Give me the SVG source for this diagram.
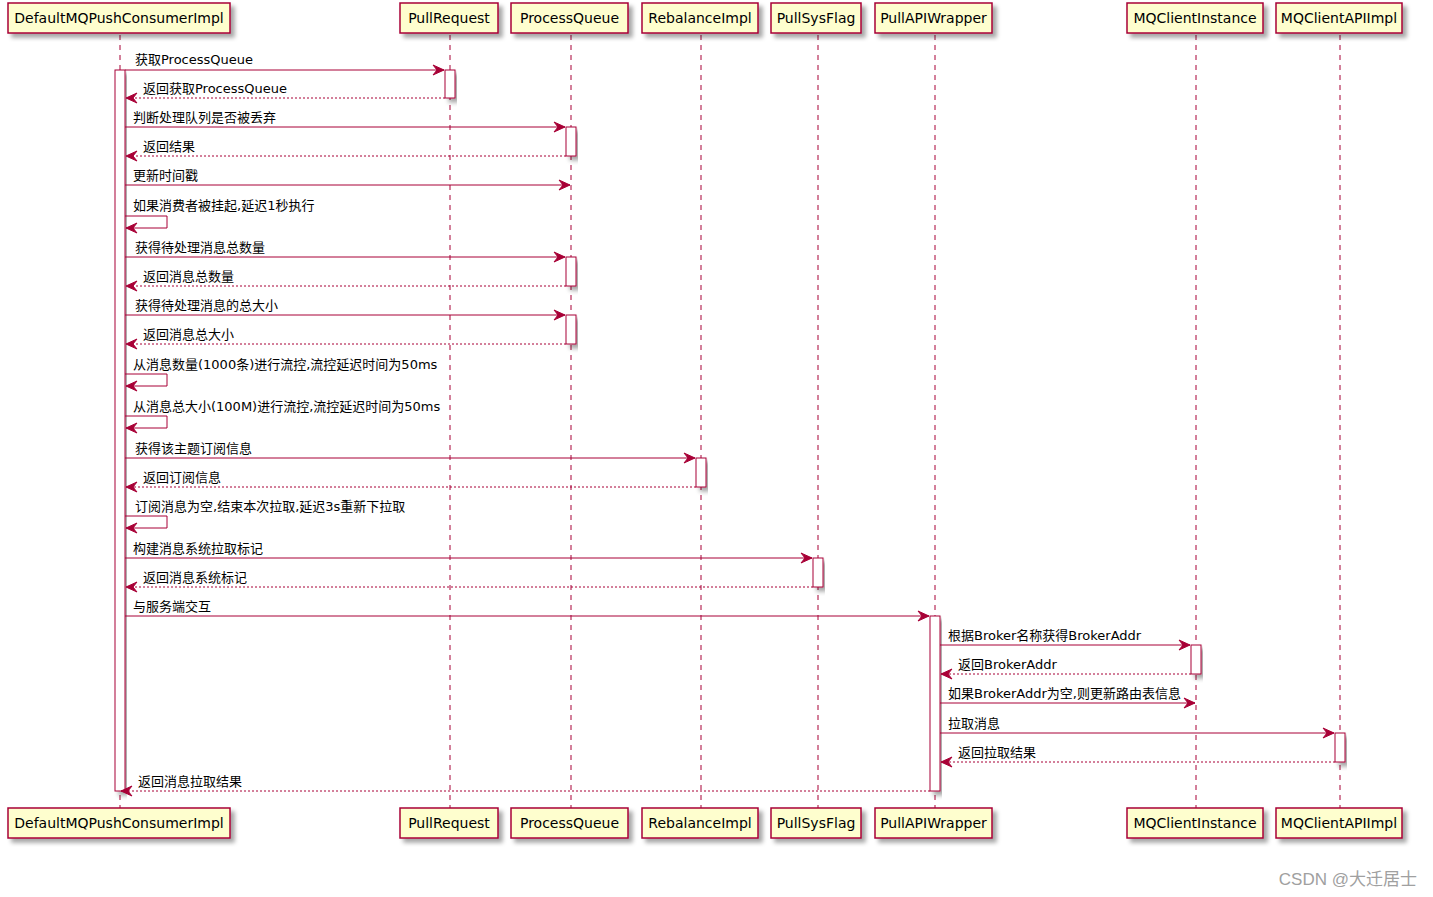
<svg xmlns="http://www.w3.org/2000/svg" width="1433" height="897" viewBox="0 0 1433 897">
<defs>
<filter id="sh" x="-10%" y="-10%" width="130%" height="140%">
<feDropShadow dx="4" dy="4" stdDeviation="2" flood-color="#000" flood-opacity="0.35"/>
</filter>
<marker id="ah" markerUnits="userSpaceOnUse" markerWidth="14" markerHeight="12" refX="12" refY="6" orient="auto" viewBox="0 0 14 12">
<path d="M1,1 L12,6 L1,11 L5,6 Z" fill="#A80036" stroke="#A80036" stroke-width="1"/>
</marker>
<style>
.box{fill:#FEFECE;stroke:#A80036;stroke-width:1.5;filter:url(#sh)}
.pt{font-family:"DejaVu Sans","Noto Sans CJK SC",sans-serif;font-size:14px;fill:#000;text-anchor:middle}
.life{stroke:#A80036;stroke-width:1;stroke-dasharray:5,5;fill:none}
.act{fill:#FFFFFF;stroke:#A80036;stroke-width:1;filter:url(#sh)}
.msg{stroke:#A80036;stroke-width:1;fill:none;marker-end:url(#ah)}
.ret{stroke:#A80036;stroke-width:1;fill:none;stroke-dasharray:2,2;marker-end:url(#ah)}
.ml{font-family:"DejaVu Sans","Noto Sans CJK SC",sans-serif;font-size:13px;fill:#000}
.wm{font-family:"Liberation Sans","Noto Sans CJK SC",sans-serif;font-size:17px;fill:#A0A0A0;text-anchor:end}
</style>
</defs>
<rect width="1433" height="897" fill="#FFFFFF"/>

<g id="p-DefaultMQPushConsumerImpl">
<line class="life" x1="120" y1="35" x2="120" y2="808"/>
<rect class="box" x="8" y="3" width="222" height="30"/>
<text class="pt" x="119" y="23">DefaultMQPushConsumerImpl</text>
<rect class="box" x="8" y="808" width="222" height="30"/>
<text class="pt" x="119" y="828">DefaultMQPushConsumerImpl</text>
</g>
<g id="p-PullRequest">
<line class="life" x1="450" y1="35" x2="450" y2="808"/>
<rect class="box" x="400" y="3" width="98" height="30"/>
<text class="pt" x="449" y="23">PullRequest</text>
<rect class="box" x="400" y="808" width="98" height="30"/>
<text class="pt" x="449" y="828">PullRequest</text>
</g>
<g id="p-ProcessQueue">
<line class="life" x1="571" y1="35" x2="571" y2="808"/>
<rect class="box" x="511" y="3" width="117" height="30"/>
<text class="pt" x="569.5" y="23">ProcessQueue</text>
<rect class="box" x="511" y="808" width="117" height="30"/>
<text class="pt" x="569.5" y="828">ProcessQueue</text>
</g>
<g id="p-RebalanceImpl">
<line class="life" x1="701" y1="35" x2="701" y2="808"/>
<rect class="box" x="642" y="3" width="116" height="30"/>
<text class="pt" x="700" y="23">RebalanceImpl</text>
<rect class="box" x="642" y="808" width="116" height="30"/>
<text class="pt" x="700" y="828">RebalanceImpl</text>
</g>
<g id="p-PullSysFlag">
<line class="life" x1="818" y1="35" x2="818" y2="808"/>
<rect class="box" x="771" y="3" width="90" height="30"/>
<text class="pt" x="816" y="23">PullSysFlag</text>
<rect class="box" x="771" y="808" width="90" height="30"/>
<text class="pt" x="816" y="828">PullSysFlag</text>
</g>
<g id="p-PullAPIWrapper">
<line class="life" x1="935" y1="35" x2="935" y2="808"/>
<rect class="box" x="875" y="3" width="117" height="30"/>
<text class="pt" x="933.5" y="23">PullAPIWrapper</text>
<rect class="box" x="875" y="808" width="117" height="30"/>
<text class="pt" x="933.5" y="828">PullAPIWrapper</text>
</g>
<g id="p-MQClientInstance">
<line class="life" x1="1196" y1="35" x2="1196" y2="808"/>
<rect class="box" x="1127" y="3" width="136" height="30"/>
<text class="pt" x="1195" y="23">MQClientInstance</text>
<rect class="box" x="1127" y="808" width="136" height="30"/>
<text class="pt" x="1195" y="828">MQClientInstance</text>
</g>
<g id="p-MQClientAPIImpl">
<line class="life" x1="1340" y1="35" x2="1340" y2="808"/>
<rect class="box" x="1276" y="3" width="126" height="30"/>
<text class="pt" x="1339" y="23">MQClientAPIImpl</text>
<rect class="box" x="1276" y="808" width="126" height="30"/>
<text class="pt" x="1339" y="828">MQClientAPIImpl</text>
</g>

<g id="activations">
<rect class="act" x="115" y="70" width="10" height="721"/>
<rect class="act" x="445" y="70" width="10" height="28"/>
<rect class="act" x="566" y="127" width="10" height="29"/>
<rect class="act" x="566" y="257" width="10" height="29"/>
<rect class="act" x="566" y="315" width="10" height="29"/>
<rect class="act" x="696" y="458" width="10" height="29"/>
<rect class="act" x="813" y="558" width="10" height="29"/>
<rect class="act" x="930" y="616" width="10" height="175"/>
<rect class="act" x="1191" y="645" width="10" height="29"/>
<rect class="act" x="1335" y="733" width="10" height="29"/>
</g>

<g id="connectors">
<line class="msg" x1="125" y1="70" x2="444" y2="70"/>
<text class="ml" x="135" y="64">获取ProcessQueue</text>
<line class="ret" x1="445" y1="98" x2="126" y2="98"/>
<text class="ml" x="143" y="93">返回获取ProcessQueue</text>

<line class="msg" x1="125" y1="127" x2="565" y2="127"/>
<text class="ml" x="133" y="122">判断处理队列是否被丢弃</text>
<line class="ret" x1="566" y1="156" x2="126" y2="156"/>
<text class="ml" x="143" y="151">返回结果</text>

<line class="msg" x1="125" y1="185" x2="570" y2="185"/>
<text class="ml" x="133" y="180">更新时间戳</text>

<polyline class="msg" points="125,216 167,216 167,228 126,228"/>
<text class="ml" x="133" y="210">如果消费者被挂起,延迟1秒执行</text>

<line class="msg" x1="125" y1="257" x2="565" y2="257"/>
<text class="ml" x="135" y="252">获得待处理消息总数量</text>
<line class="ret" x1="566" y1="286" x2="126" y2="286"/>
<text class="ml" x="143" y="281">返回消息总数量</text>

<line class="msg" x1="125" y1="315" x2="565" y2="315"/>
<text class="ml" x="135" y="310">获得待处理消息的总大小</text>
<line class="ret" x1="566" y1="344" x2="126" y2="344"/>
<text class="ml" x="143" y="339">返回消息总大小</text>

<polyline class="msg" points="125,374 167,374 167,386 126,386"/>
<text class="ml" x="133" y="369">从消息数量(1000条)进行流控,流控延迟时间为50ms</text>

<polyline class="msg" points="125,416 167,416 167,428 126,428"/>
<text class="ml" x="133" y="411">从消息总大小(100M)进行流控,流控延迟时间为50ms</text>

<line class="msg" x1="125" y1="458" x2="695" y2="458"/>
<text class="ml" x="135" y="453">获得该主题订阅信息</text>
<line class="ret" x1="696" y1="487" x2="126" y2="487"/>
<text class="ml" x="143" y="482">返回订阅信息</text>

<polyline class="msg" points="125,516 167,516 167,528 126,528"/>
<text class="ml" x="135" y="511">订阅消息为空,结束本次拉取,延迟3s重新下拉取</text>

<line class="msg" x1="125" y1="558" x2="812" y2="558"/>
<text class="ml" x="133" y="553">构建消息系统拉取标记</text>
<line class="ret" x1="813" y1="587" x2="126" y2="587"/>
<text class="ml" x="143" y="582">返回消息系统标记</text>

<line class="msg" x1="125" y1="616" x2="929" y2="616"/>
<text class="ml" x="133" y="611">与服务端交互</text>

<line class="msg" x1="940" y1="645" x2="1190" y2="645"/>
<text class="ml" x="948" y="640">根据Broker名称获得BrokerAddr</text>
<line class="ret" x1="1191" y1="674" x2="941" y2="674"/>
<text class="ml" x="958" y="669">返回BrokerAddr</text>

<line class="msg" x1="940" y1="703" x2="1195" y2="703"/>
<text class="ml" x="948" y="698">如果BrokerAddr为空,则更新路由表信息</text>

<line class="msg" x1="940" y1="733" x2="1334" y2="733"/>
<text class="ml" x="948" y="728">拉取消息</text>
<line class="ret" x1="1335" y1="762" x2="941" y2="762"/>
<text class="ml" x="958" y="757">返回拉取结果</text>

<line class="ret" x1="930" y1="791" x2="121" y2="791"/>
<text class="ml" x="138" y="786">返回消息拉取结果</text>
</g>

<text class="wm" x="1417" y="885">CSDN @大迁居士</text>
</svg>
